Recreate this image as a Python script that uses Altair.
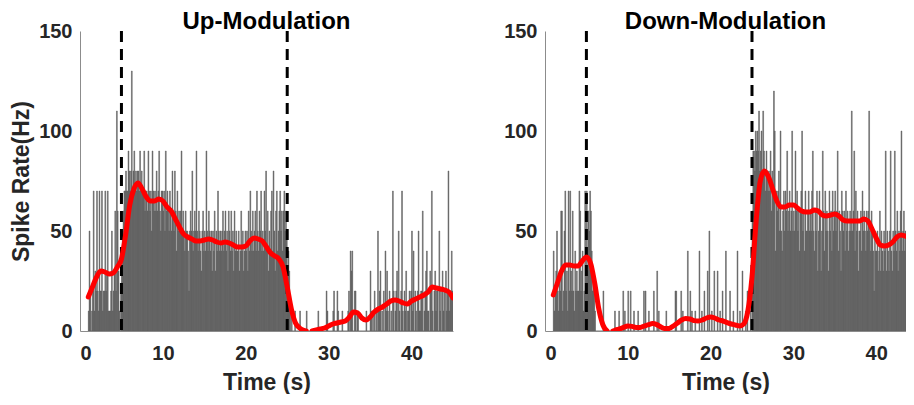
import altair as alt
import pandas as pd

# ---------------- data ----------------
BIN_S = 0.1          # histogram bin width (s)
FIRST_BIN_S = 1.0    # start of first bin (s)
HZ_PER_SPIKE = 10    # one spike in a 0.1 s bin = 10 Hz
STIM_TIMES = [5, 25]

# spike counts per 0.1 s bin, one row per second (1 s .. 45 s)
UP_COUNTS = [
    [1, 5, 2, 0, 1, 2, 7, 1, 3, 2],
    [7, 2, 1, 7, 2, 2, 7, 1, 2, 2],
    [7, 2, 3, 7, 1, 1, 1, 2, 5, 1],
    [2, 3, 6, 2, 11, 6, 3, 1, 0, 2],
    [3, 5, 6, 7, 7, 8, 7, 7, 9, 8],
    [7, 8, 13, 7, 8, 9, 7, 8, 7, 8],
    [8, 7, 9, 7, 8, 7, 7, 9, 6, 7],
    [7, 6, 9, 7, 6, 7, 5, 9, 7, 6],
    [7, 6, 8, 6, 7, 9, 6, 5, 7, 7],
    [6, 7, 5, 9, 6, 7, 6, 5, 7, 6],
    [5, 8, 6, 5, 8, 6, 4, 7, 5, 6],
    [5, 6, 9, 5, 6, 5, 4, 6, 5, 5],
    [4, 2, 5, 6, 5, 8, 4, 5, 6, 5],
    [9, 5, 4, 6, 5, 4, 3, 5, 6, 4],
    [5, 4, 9, 5, 4, 6, 5, 4, 5, 3],
    [5, 4, 6, 3, 5, 4, 7, 5, 4, 5],
    [4, 5, 6, 4, 5, 6, 4, 5, 3, 6],
    [5, 4, 6, 4, 5, 3, 6, 4, 5, 4],
    [4, 5, 3, 4, 6, 4, 5, 3, 4, 5],
    [4, 5, 3, 6, 4, 7, 5, 4, 6, 4],
    [5, 6, 4, 7, 5, 4, 6, 5, 7, 4],
    [5, 4, 7, 5, 8, 4, 6, 3, 5, 4],
    [6, 7, 4, 8, 5, 3, 6, 7, 4, 5],
    [6, 7, 5, 6, 4, 6, 7, 5, 6, 5],
    [3, 4, 3, 1, 0, 1, 0, 0, 0, 1],
    [0, 0, 0, 0, 0, 1, 0, 0, 0, 0],
    [0, 0, 0, 1, 0, 0, 0, 0, 0, 0],
    [0, 0, 0, 0, 0, 0, 0, 1, 0, 0],
    [0, 0, 0, 0, 0, 0, 0, 2, 1, 0],
    [0, 0, 0, 0, 0, 1, 2, 0, 0, 0],
    [2, 1, 0, 0, 0, 0, 1, 0, 0, 0],
    [0, 0, 0, 1, 2, 0, 4, 3, 4, 0],
    [0, 2, 2, 0, 1, 1, 0, 0, 0, 0],
    [0, 0, 0, 0, 0, 1, 0, 0, 0, 0],
    [3, 1, 0, 1, 0, 2, 0, 1, 0, 5],
    [1, 2, 3, 0, 1, 0, 2, 0, 4, 1],
    [3, 1, 0, 2, 0, 1, 0, 7, 2, 0],
    [1, 2, 3, 0, 5, 1, 0, 2, 7, 1],
    [0, 2, 1, 3, 0, 1, 1, 2, 0, 2],
    [5, 1, 4, 0, 2, 1, 0, 2, 5, 1],
    [1, 2, 2, 6, 0, 1, 2, 3, 4, 1],
    [1, 0, 3, 2, 7, 1, 0, 2, 3, 1],
    [2, 2, 0, 5, 1, 2, 0, 3, 1, 2],
    [0, 3, 1, 2, 8, 1, 2, 2, 4, 2],
]

DOWN_COUNTS = [
    [4, 1, 2, 3, 5, 2, 1, 3, 2, 6],
    [6, 1, 2, 5, 7, 2, 3, 1, 7, 2],
    [7, 3, 2, 6, 2, 1, 4, 2, 3, 2],
    [2, 7, 6, 2, 3, 4, 1, 2, 7, 3],
    [7, 3, 6, 5, 7, 6, 4, 2, 3, 2],
    [1, 0, 0, 0, 0, 0, 0, 0, 0, 0],
    [2, 0, 0, 0, 0, 0, 0, 0, 0, 0],
    [0, 0, 0, 0, 1, 0, 0, 0, 0, 1],
    [0, 0, 0, 0, 2, 0, 1, 0, 0, 0],
    [2, 0, 0, 2, 0, 0, 0, 1, 0, 0],
    [0, 0, 1, 0, 0, 0, 0, 0, 0, 2],
    [0, 2, 0, 0, 0, 1, 0, 0, 0, 0],
    [0, 2, 0, 0, 0, 3, 0, 1, 0, 0],
    [0, 0, 0, 0, 0, 0, 1, 0, 0, 0],
    [0, 0, 0, 0, 0, 0, 0, 2, 2, 0],
    [0, 0, 0, 0, 2, 0, 1, 0, 0, 0],
    [0, 0, 4, 0, 0, 2, 0, 1, 0, 0],
    [0, 1, 0, 0, 0, 0, 4, 0, 0, 1],
    [0, 0, 2, 0, 0, 0, 3, 0, 5, 0],
    [0, 1, 0, 0, 3, 0, 0, 0, 3, 0],
    [0, 1, 0, 0, 2, 0, 0, 0, 4, 0],
    [0, 0, 0, 2, 0, 0, 0, 1, 0, 0],
    [0, 0, 4, 0, 0, 1, 0, 0, 3, 0],
    [0, 0, 1, 0, 2, 0, 0, 0, 1, 0],
    [6, 9, 9, 8, 10, 9, 10, 9, 11, 8],
    [9, 10, 8, 11, 9, 8, 7, 9, 8, 7],
    [8, 7, 9, 6, 8, 7, 12, 10, 4, 7],
    [6, 7, 8, 5, 10, 5, 4, 6, 7, 5],
    [7, 6, 9, 5, 6, 7, 5, 6, 10, 5],
    [6, 5, 9, 6, 7, 5, 6, 4, 6, 7],
    [10, 5, 6, 4, 7, 5, 5, 6, 7, 5],
    [6, 5, 7, 9, 5, 4, 6, 5, 7, 3],
    [5, 7, 6, 3, 5, 9, 6, 4, 7, 5],
    [6, 5, 3, 7, 5, 6, 4, 7, 5, 6],
    [7, 5, 6, 9, 4, 6, 5, 3, 7, 6],
    [5, 6, 4, 7, 5, 6, 4, 5, 6, 5],
    [11, 5, 6, 9, 4, 7, 5, 6, 3, 5],
    [5, 6, 4, 7, 5, 6, 5, 4, 6, 5],
    [6, 11, 5, 4, 6, 5, 4, 2, 5, 4],
    [4, 5, 3, 4, 6, 3, 5, 4, 3, 5],
    [4, 9, 3, 5, 4, 3, 5, 9, 4, 3],
    [5, 4, 9, 5, 4, 6, 3, 5, 4, 6],
    [10, 4, 5, 6, 4, 5, 3, 6, 5, 4],
    [5, 4, 6, 5, 3, 6, 5, 4, 5, 6],
]

# smoothed firing rate (time s, rate Hz); separate segments where it drops out
UP_RATE_SEG1 = [
    (1.0, 17), (1.5, 22), (2.0, 27), (2.5, 30), (3.0, 29.5), (3.5, 28.5),
    (4.0, 29), (4.5, 32), (5.0, 36), (5.5, 48), (6.0, 63), (6.5, 71),
    (7.0, 74), (7.5, 71), (8.0, 67), (8.5, 65), (9.0, 65), (9.5, 66),
    (10.0, 65), (10.5, 62), (11.0, 60), (11.5, 56), (12.0, 52), (12.5, 48.5),
    (13.0, 47), (13.5, 46), (14.0, 45), (14.5, 45), (15.0, 45.5), (15.5, 46),
    (16.0, 45.5), (16.5, 44.5), (17.0, 44), (17.5, 44.5), (18.0, 44), (18.5, 43),
    (19.0, 42), (19.5, 42), (20.0, 42.5), (20.5, 45), (21.0, 46.5), (21.5, 46),
    (22.0, 45), (22.5, 42), (23.0, 39), (23.5, 37.5), (24.0, 36), (24.5, 32),
    (25.0, 22), (25.5, 11), (26.0, 4), (26.5, 1.5), (27.0, 0.3), (27.3, 0),
]
UP_RATE_SEG2 = [
    (28.0, 0), (28.5, 0.5), (29.0, 1), (29.5, 1.5), (30.0, 2.5), (30.5, 3.5),
    (31.0, 4), (31.5, 4.5), (32.0, 5), (32.5, 7), (33.0, 9.5), (33.5, 9),
    (34.0, 6.5), (34.5, 5.5), (35.0, 7), (35.5, 9.5), (36.0, 11), (36.5, 12),
    (37.0, 13.5), (37.5, 15), (38.0, 15.5), (38.5, 15), (39.0, 14), (39.5, 13.5),
    (40.0, 15), (40.5, 16), (41.0, 17), (41.5, 18), (42.0, 19.5), (42.5, 22),
    (43.0, 21.5), (43.5, 21), (44.0, 20.5), (44.5, 19.5), (45.0, 16.5),
]
DOWN_RATE_SEG1 = [
    (1.0, 18), (1.5, 24), (2.0, 30), (2.5, 33), (3.0, 33), (3.5, 32.5),
    (4.0, 32.5), (4.5, 35), (5.0, 37), (5.5, 34), (6.0, 24), (6.5, 11),
    (7.0, 3), (7.5, 0),
]
DOWN_RATE_SEG2 = [
    (8.2, 0), (8.5, 0.5), (9.0, 1), (9.5, 1.8), (10.0, 2.5), (10.5, 2.3),
    (11.0, 1.8), (11.5, 1.8), (12.0, 2.5), (12.5, 3.2), (13.0, 3.7), (13.5, 3.2),
    (14.0, 2), (14.5, 1.2), (15.0, 1.3), (15.5, 2.5), (16.0, 4), (16.5, 5.5),
    (17.0, 6.2), (17.5, 6), (18.0, 5.2), (18.5, 5), (19.0, 5.5), (19.5, 6.5),
    (20.0, 7), (20.5, 6.5), (21.0, 5.5), (21.5, 5), (22.0, 4.2), (22.5, 3.5),
    (23.0, 3), (23.5, 2.5), (24.0, 3.5), (24.5, 10), (25.0, 27), (25.5, 55),
    (26.0, 75), (26.5, 80), (27.0, 77), (27.5, 71), (28.0, 65), (28.5, 62),
    (29.0, 62), (29.5, 63), (30.0, 63), (30.5, 61.5), (31.0, 60), (31.5, 59.5),
    (32.0, 59.5), (32.5, 60.5), (33.0, 60), (33.5, 58), (34.0, 57.5), (34.5, 58),
    (35.0, 58.5), (35.5, 57.5), (36.0, 55.5), (36.5, 55), (37.0, 55), (37.5, 55),
    (38.0, 55), (38.5, 56), (39.0, 55), (39.5, 51), (40.0, 46.5), (40.5, 43),
    (41.0, 42.5), (41.5, 43), (42.0, 44.5), (42.5, 47), (43.0, 48), (43.5, 47.5),
    (44.0, 47), (44.5, 47), (45.0, 47),
]

X_TICKS = [0, 10, 20, 30, 40]
Y_TICKS = [0, 50, 100, 150]

# ---------------- tables ----------------
def bars_table(rows):
    recs = []
    i = 0
    for row in rows:
        for c in row:
            t0 = round(FIRST_BIN_S + i * BIN_S, 3)
            recs.append({"t0": t0, "t1": round(t0 + BIN_S, 3), "rate": c * HZ_PER_SPIKE})
            i += 1
    return pd.DataFrame(recs)


def rate_table(*segments):
    recs = []
    for k, seg in enumerate(segments):
        for t, v in seg:
            recs.append({"t": t, "rate": v, "seg": k})
    return pd.DataFrame(recs)


stim_df = pd.DataFrame({"t": STIM_TIMES})

FONT = "Liberation Sans"
BAR_COLOR = "#5e5e5e"


def panel(title, counts, rate_df, xmax, width, show_ytitle):
    xs = alt.Scale(domain=[0, xmax], nice=False, zero=False)
    ys = alt.Scale(domain=[0, 150], nice=False)
    xaxis = alt.Axis(values=X_TICKS, title="Time (s)", labelPadding=12, titlePadding=8)
    if show_ytitle:
        yaxis = alt.Axis(values=Y_TICKS, title="Spike Rate(Hz)", titlePadding=5)
    else:
        yaxis = alt.Axis(values=Y_TICKS, title=None)

    bars = alt.Chart(bars_table(counts)).mark_rect(
        color=BAR_COLOR, stroke=BAR_COLOR, strokeWidth=0.5, clip=True
    ).encode(
        x=alt.X("t0:Q", scale=xs, axis=xaxis),
        x2="t1:Q",
        y=alt.Y("rate:Q", scale=ys, axis=yaxis),
        y2=alt.datum(0),
    )
    stim = alt.Chart(stim_df).mark_rule(
        color="black", strokeWidth=3, strokeDash=[11, 7]
    ).encode(x=alt.X("t:Q", scale=xs))
    line = alt.Chart(rate_df).mark_line(
        color="#ff0000", strokeWidth=5, interpolate="monotone", clip=True,
        strokeCap="round", strokeJoin="round"
    ).encode(
        x=alt.X("t:Q", scale=xs),
        y=alt.Y("rate:Q", scale=ys),
        detail="seg:N",
    )
    return alt.layer(bars, stim, line).properties(
        width=width,
        height=300,
        title=alt.TitleParams(
            title, fontSize=24, fontWeight="bold", font=FONT, color="black",
            anchor="middle", offset=-13
        ),
    )


left = panel("Up-Modulation", UP_COUNTS, rate_table(UP_RATE_SEG1, UP_RATE_SEG2),
             45, 373, True)
# the right panel is cut off at the picture's right edge, as in the original figure
right = panel("Down-Modulation", DOWN_COUNTS, rate_table(DOWN_RATE_SEG1, DOWN_RATE_SEG2),
              43.6, 361, False)

chart = alt.hconcat(left, right, spacing=50).properties(
    padding={"left": 2, "top": 2, "right": 0, "bottom": 0}
).configure_view(stroke=None).configure_axis(
    labelFont=FONT, labelFontWeight="bold", labelFontSize=20, labelColor="#262626",
    titleFont=FONT, titleFontWeight="bold", titleFontSize=23, titleColor="#262626",
    ticks=False, grid=False, domainColor="#8c8c8c", domainWidth=1, labelPadding=8,
)

chart.save("out.html", embed_options={"renderer": "svg", "actions": False})
